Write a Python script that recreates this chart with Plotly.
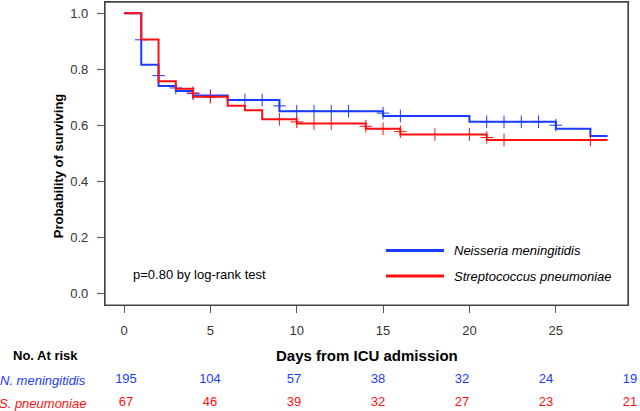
import plotly.graph_objects as go

# Kaplan-Meier steps (time of drop, survival after drop), curves run to day 28
nm_times = [0, 1, 2, 3, 4, 6, 9, 15, 20, 25, 27]
nm_surv = [1.0, 0.816, 0.740, 0.722, 0.706, 0.690, 0.650, 0.633, 0.612, 0.587, 0.561]
sp_times = [0, 1, 2, 3, 4, 6, 7, 8, 10, 14, 16, 21]
sp_surv = [1.0, 0.906, 0.757, 0.730, 0.702, 0.669, 0.653, 0.621, 0.606, 0.587, 0.567, 0.547]
end_day = 28

# censoring marks
nm_cens_t = [1, 2, 3, 4, 5, 7, 8, 9, 10, 11, 12, 13, 15, 16, 21, 22, 23, 24, 25]
nm_cens_s = [0.905, 0.777, 0.733, 0.713, 0.706, 0.690, 0.690, 0.669, 0.650, 0.650, 0.650,
             0.650, 0.643, 0.633, 0.612, 0.612, 0.612, 0.612, 0.600]
sp_cens_t = [4, 5, 9, 10, 11, 12, 14, 15, 16, 18, 20, 21, 22, 27]
sp_cens_s = [0.715, 0.700, 0.621, 0.612, 0.606, 0.606, 0.596, 0.587, 0.577, 0.567, 0.567,
             0.556, 0.547, 0.547]

# number at risk table
risk_days = [0, 5, 10, 15, 20, 25, 30]
nm_risk = [195, 104, 57, 38, 32, 24, 19]
sp_risk = [67, 46, 39, 32, 27, 23, 21]

BLUE = '#1a3cff'
RED = '#ff1010'
FONT = 'Arial, Liberation Sans, sans-serif'

fig = go.Figure()

for t, s, ct, cs, col, name in [
    (nm_times, nm_surv, nm_cens_t, nm_cens_s, BLUE, 'Neisseria meningitidis'),
    (sp_times, sp_surv, sp_cens_t, sp_cens_s, RED, 'Streptococcus pneumoniae'),
]:
    fig.add_trace(go.Scatter(
        x=t + [end_day], y=s + [s[-1]], mode='lines', line_shape='hv',
        line=dict(color=col, width=2), name=name, showlegend=False))
    fig.add_trace(go.Scatter(
        x=ct, y=cs, mode='markers', showlegend=False,
        marker=dict(symbol='cross-thin', size=9, line=dict(color=col, width=1))))

# risk table rows
for vals, col, row in [(nm_risk, BLUE, 1), (sp_risk, RED, 0)]:
    fig.add_trace(go.Scatter(
        x=risk_days, y=[row] * len(vals), mode='text', text=[str(v) for v in vals],
        textfont=dict(color=col, size=13, family=FONT), cliponaxis=False,
        xaxis='x2', yaxis='y2', showlegend=False))

axis_common = dict(showline=True, linecolor='#444', linewidth=1.3, mirror=True,
                   ticks='outside', ticklen=7, tickcolor='#555', showgrid=False,
                   zeroline=False, tickfont=dict(size=13, color='#333', family=FONT))

fig.update_layout(
    width=640, height=411,
    margin=dict(l=105, r=0, t=2, b=2),
    paper_bgcolor='white', plot_bgcolor='white',
    font=dict(family=FONT, color='black'),
    xaxis=dict(range=[-1.1, 29.18], tickvals=[0, 5, 10, 15, 20, 25], domain=[0, 0.9776],
               anchor='y', ticklabelstandoff=6, **axis_common),
    yaxis=dict(range=[-0.043, 1.04], tickvals=[0, 0.2, 0.4, 0.6, 0.8, 1.0],
               tickformat='.1f', domain=[0.255, 1], anchor='x', ticklabelstandoff=6,
               **axis_common),
    xaxis2=dict(range=[-1.25, 30.6], domain=[0, 1], anchor='y2', visible=False),
    yaxis2=dict(range=[-0.261, 3.287], domain=[0, 0.2], anchor='x2', visible=False),
)

# plot box drawn again on top (paper-referenced so its edges are not clipped)
fig.add_shape(type='rect', xref='paper', yref='paper', x0=0, x1=0.9776, y0=0.255, y1=1,
              line=dict(color='#444', width=1.3), layer='above')

# legend drawn inside the plot
for y, col in [(0.3897, BLUE), (0.3267, RED)]:
    fig.add_shape(type='line', xref='paper', yref='paper', x0=0.5252, x1=0.6336,
                  y0=y, y1=y, line=dict(color=col, width=3))
for y, txt in [(0.3897, 'Neisseria meningitidis'), (0.3267, 'Streptococcus pneumoniae')]:
    fig.add_annotation(xref='paper', yref='paper', x=0.6480, y=y, xanchor='left',
                       yanchor='middle', showarrow=False,
                       text=f'<i>{txt}</i>', font=dict(size=13, color='black'))

fig.add_annotation(xref='paper', yref='paper', x=0.0486, y=0.331, xanchor='left',
                   yanchor='middle', showarrow=False, text='p=0.80 by log-rank test',
                   font=dict(size=13, color='black'))
fig.add_annotation(xref='paper', yref='paper', x=0.4892, y=0.1306, xanchor='center',
                   yanchor='middle', showarrow=False, text='<b>Days from ICU admission</b>',
                   font=dict(size=15, color='black'))
fig.add_annotation(xref='paper', yref='paper', x=-0.0879, y=0.599, xanchor='center',
                   yanchor='middle', showarrow=False, textangle=-90,
                   text='<b>Probability of surviving</b>', font=dict(size=13, color='black'))
fig.add_annotation(xref='paper', yref='paper', x=-0.1112, y=0.1324, xanchor='center',
                   yanchor='middle', showarrow=False, text='<b>No. At risk</b>',
                   font=dict(size=13, color='black'))
for y, txt, col in [(0.0711, 'N. meningitidis', BLUE), (0.0147, 'S. pneumoniae', RED)]:
    fig.add_annotation(xref='paper', yref='paper', x=-0.0318, y=y, xanchor='right',
                       yanchor='middle', showarrow=False, text=f'<i>{txt}</i>',
                       font=dict(size=13, color=col))

# the page body has a default 8px margin; drop it so the figure fills the window
fig.write_html("out.html", config={'displayModeBar': False},
               post_script="document.body.style.margin='0';")
